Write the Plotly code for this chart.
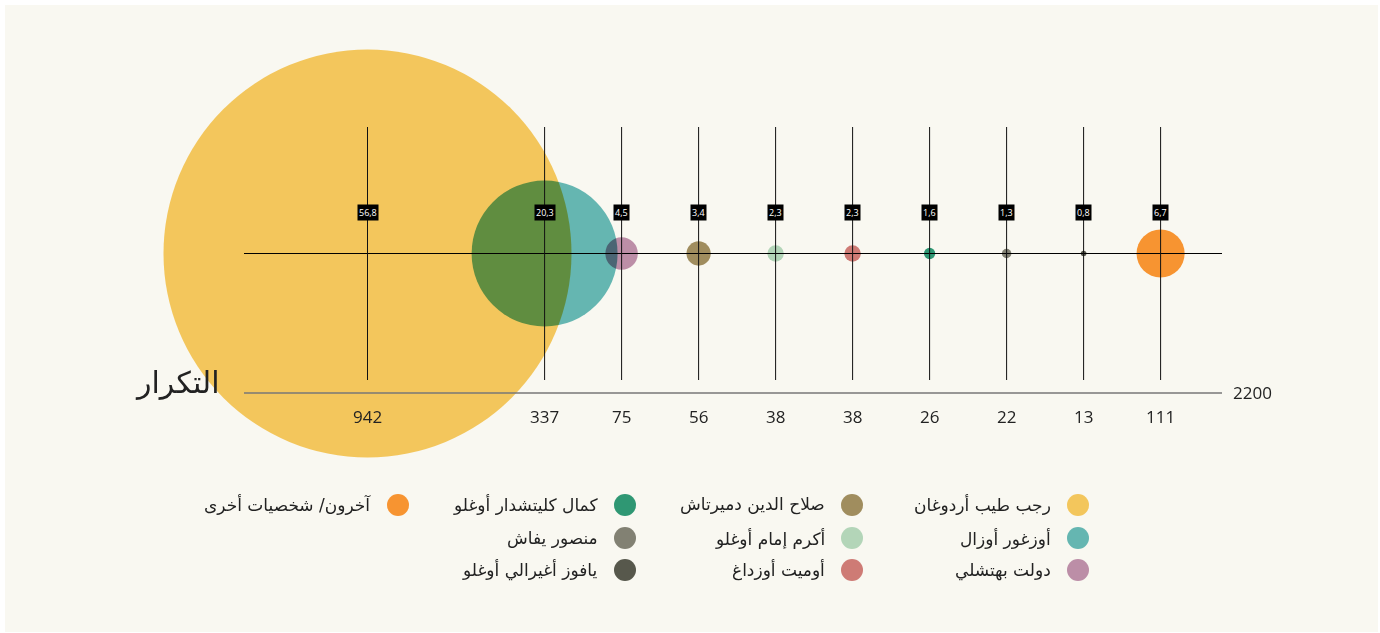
import plotly.graph_objects as go

# ---------------- data ----------------
names = ["رجب طيب أردوغان", "أوزغور أوزال", "دولت بهتشلي", "صلاح الدين دميرتاش",
         "أكرم إمام أوغلو", "أوميت أوزداغ", "كمال كليتشدار أوغلو", "منصور يفاش",
         "يافوز أغيرالي أوغلو", "آخرون/ شخصيات أخرى"]
counts = [942, 337, 75, 56, 38, 38, 26, 22, 13, 111]
percents = [56.8, 20.3, 4.5, 3.4, 2.3, 2.3, 1.6, 1.3, 0.8, 6.7]
colors = ["#F3C65C", "#65B6B1", "#BC8EA7", "#A08D5E", "#B3D5B8", "#CE7B75",
          "#2F9773", "#828173", "#57584C", "#F79431"]
axis_max_label = "2200"
axis_title = "التكرار"

# ---------------- layout constants ----------------
W, H = 1380, 633
BG = "#F9F8F1"
UNIT_PX = 77.0          # px per column unit
FIRST_COL_PX = 367.5
FIRST_GAP = 2.3         # extra spacing after the first column
xpos = [0.0] + [FIRST_GAP + i for i in range(len(counts) - 1)]
x_range = [-FIRST_COL_PX / UNIT_PX, (W - FIRST_COL_PX) / UNIT_PX]

def px_to_unit(px):
    return (px - FIRST_COL_PX) / UNIT_PX

CENTER_Y = 253.5
LINE_TOP, LINE_BOT = 127, 380
BASE_Y = 393
LABEL_Y = 212
COUNT_Y = 416
DIAM_PER_VALUE = 408.0 / 942.0

FONT = "Open Sans, DejaVu Sans, sans-serif"
AR_FONT = "DejaVu Sans, Open Sans, sans-serif"

fig = go.Figure()

fig.add_trace(go.Scatter(
    x=xpos, y=[CENTER_Y] * len(counts), mode="markers",
    marker=dict(size=counts, sizemode="diameter", sizeref=1.0 / DIAM_PER_VALUE,
                color=colors, line=dict(width=0), opacity=1),
    hoverinfo="skip", showlegend=False,
))

shapes = []
# background panel
shapes.append(dict(type="rect", xref="paper", yref="paper", x0=5 / W, x1=1 - 2 / W,
                   y0=1 / H, y1=1 - 5 / H, fillcolor=BG, line=dict(width=0), layer="below"))
# centre line
shapes.append(dict(type="line", xref="x", yref="y", x0=px_to_unit(244), x1=px_to_unit(1222),
                   y0=CENTER_Y, y1=CENTER_Y, line=dict(color="#000000", width=1), layer="above"))
# vertical lines
for xv in xpos:
    shapes.append(dict(type="line", xref="x", yref="y", x0=xv, x1=xv, y0=LINE_TOP, y1=LINE_BOT,
                       line=dict(color="#111111", width=1), layer="above"))
# base axis line
shapes.append(dict(type="line", xref="x", yref="y", x0=px_to_unit(244), x1=px_to_unit(1222),
                   y0=BASE_Y, y1=BASE_Y, line=dict(color="#777777", width=1.5), layer="above"))

annotations = []
for xv, p, c in zip(xpos, percents, counts):
    annotations.append(dict(x=xv, y=LABEL_Y, xref="x", yref="y", showarrow=False,
                            yanchor="middle",
                            text=f"{p:.1f}".replace(".", ","), bgcolor="#000000",
                            font=dict(family=FONT, size=9, color="#ffffff"), borderpad=1))
    annotations.append(dict(x=xv, y=COUNT_Y, xref="x", yref="y", showarrow=False,
                            yanchor="middle",
                            text=str(c), font=dict(family=FONT, size=17, color="#222222")))

annotations.append(dict(x=1231 / W, y=1 - 392 / H, xref="paper", yref="paper", showarrow=False,
                        xanchor="left", yanchor="middle", text=axis_max_label,
                        font=dict(family=FONT, size=17, color="#222222")))
annotations.append(dict(x=221 / W, y=1 - 382 / H, xref="paper", yref="paper", showarrow=False,
                        xanchor="right", yanchor="middle", text=axis_title,
                        font=dict(family=AR_FONT, size=30, color="#222222")))

# custom legend (columns right-to-left)
legend_cols_px = [1078, 852, 625, 398]
legend_rows_px = [505, 538, 570]
for i, (n, col) in enumerate(zip(names, colors)):
    cx = legend_cols_px[i // 3]
    cy = legend_rows_px[i % 3]
    shapes.append(dict(type="circle", xref="paper", yref="paper",
                       xsizemode="pixel", ysizemode="pixel",
                       xanchor=cx / W, yanchor=1 - cy / H,
                       x0=-11, x1=11, y0=-11, y1=11,
                       fillcolor=col, line=dict(width=0)))
    annotations.append(dict(x=(cx - 25) / W, y=1 - cy / H, xref="paper", yref="paper",
                            showarrow=False, xanchor="right", yanchor="middle", text=n,
                            font=dict(family=AR_FONT, size=17, color="#222222")))

fig.update_layout(
    width=W, height=H, margin=dict(l=0, r=0, t=0, b=0),
    paper_bgcolor="#ffffff", plot_bgcolor="rgba(0,0,0,0)",
    xaxis=dict(range=x_range, visible=False, fixedrange=True),
    yaxis=dict(range=[H, 0], visible=False, fixedrange=True),
    shapes=shapes, annotations=annotations, showlegend=False,
)

post = """
document.documentElement.style.margin='0';
document.body.style.margin='0';
document.body.style.padding='0';
document.body.style.overflow='hidden';
var gd = document.getElementById('{plot_id}');
function blendPts(){
  gd.querySelectorAll('.scatterlayer .point').forEach(function(p){ p.style.mixBlendMode='multiply'; });
}
blendPts();
if (gd.on) { gd.on('plotly_afterplot', blendPts); }
"""

fig.write_html("out.html", config={"displayModeBar": False, "staticPlot": True}, post_script=post)
